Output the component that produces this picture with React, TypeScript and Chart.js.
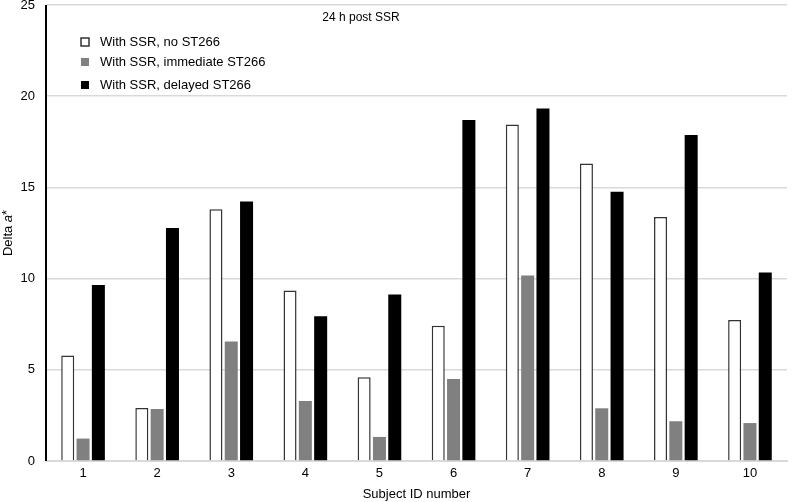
import React, { useEffect, useRef } from "react";
import { Chart, registerables } from "chart.js";

Chart.register(...registerables);

const categories = ["1", "2", "3", "4", "5", "6", "7", "8", "9", "10"];
const noST266 = [5.78, 2.91, 13.8, 9.35, 4.59, 7.41, 18.45, 16.31, 13.38, 7.73];
const immediateST266 = [1.23, 2.85, 6.55, 3.29, 1.32, 4.5, 10.17, 2.89, 2.18, 2.08];
const delayedST266 = [9.65, 12.77, 14.23, 7.94, 9.13, 18.69, 19.33, 14.76, 17.87, 10.33];
const seriesNames = ["With SSR, no ST266", "With SSR, immediate ST266", "With SSR, delayed ST266"];
const yTicks = [0, 5, 10, 15, 20, 25];
const chartTitle = "24 h post SSR";
const xTitle = "Subject ID number";

const FONT = "'Liberation Sans', Arial, sans-serif";

const overlayPlugin = {
  id: "overlay",
  afterDraw(chart: any) {
    const ctx = chart.ctx;
    ctx.save();
    // title
    ctx.fillStyle = "#000";
    ctx.font = `12px ${FONT}`;
    ctx.textAlign = "center";
    ctx.textBaseline = "middle";
    ctx.fillText(chartTitle, 361, 18);
    // legend
    const items = chart.data.datasets;
    const ys = [42, 62, 85];
    ctx.textAlign = "left";
    ctx.font = `13px ${FONT}`;
    items.forEach((ds: any, i: number) => {
      const y = ys[i];
      const bx = 81;
      const size = 8;
      ctx.fillStyle = ds.backgroundColor;
      ctx.fillRect(bx, y - size / 2, size, size);
      if (ds.borderWidth > 0) {
        ctx.strokeStyle = ds.borderColor;
        ctx.lineWidth = 1.5;
        ctx.strokeRect(bx, y - size / 2, size, size);
      }
      ctx.fillStyle = "#000";
      ctx.fillText(ds.label, 100, y);
    });
    // y axis title with italic a
    ctx.translate(8, 233);
    ctx.rotate(-Math.PI / 2);
    ctx.textBaseline = "middle";
    const p1 = "Delta ";
    ctx.font = `13px ${FONT}`;
    const w1 = ctx.measureText(p1).width;
    ctx.font = `italic 13px ${FONT}`;
    const w2 = ctx.measureText("a").width;
    ctx.font = `13px ${FONT}`;
    const w3 = ctx.measureText("*").width;
    let x = -(w1 + w2 + w3) / 2;
    ctx.textAlign = "left";
    ctx.fillText(p1, x, 0);
    x += w1;
    ctx.font = `italic 13px ${FONT}`;
    ctx.fillText("a", x, 0);
    x += w2;
    ctx.font = `13px ${FONT}`;
    ctx.fillText("*", x, -1);
    ctx.restore();
    // y axis line
    const area = chart.chartArea;
    ctx.save();
    ctx.strokeStyle = "#000";
    ctx.lineWidth = 2;
    ctx.beginPath();
    ctx.moveTo(area.left, area.top);
    ctx.lineTo(area.left, area.bottom);
    ctx.stroke();
    ctx.restore();
  },
};

export default function App() {
  const ref = useRef<HTMLCanvasElement>(null);
  useEffect(() => {
    document.body.style.margin = "0";
    const c = new Chart(ref.current!, {
      type: "bar",
      data: {
        labels: categories,
        datasets: [
          { label: seriesNames[0], data: noST266, backgroundColor: "#ffffff", borderColor: "#333333", borderWidth: 1.5, borderSkipped: "bottom" },
          { label: seriesNames[1], data: immediateST266, backgroundColor: "#808080", borderColor: "#808080", borderWidth: 0 },
          { label: seriesNames[2], data: delayedST266, backgroundColor: "#000000", borderColor: "#000000", borderWidth: 0 },
        ],
      } as any,
      options: {
        animation: false,
        responsive: false,
        layout: { padding: { left: 0, top: 5, right: 5, bottom: 0 } },
        datasets: { bar: { barPercentage: 0.85, categoryPercentage: 0.62 } } as any,
        plugins: { legend: { display: false }, title: { display: false }, tooltip: { enabled: false } },
        scales: {
          x: {
            grid: { display: false, drawTicks: false },
            border: { display: true, color: "#d9d9d9", width: 2 },
            ticks: { color: "#000", font: { family: FONT, size: 13 }, padding: 5 },
            title: { display: true, text: xTitle, color: "#000", font: { family: FONT, size: 13 }, padding: { top: 2, bottom: 0 } },
            afterFit: (s: any) => { s.height = 41; s.paddingLeft = 0; s.paddingRight = 0; },
          },
          y: {
            min: 0,
            max: 25,
            afterBuildTicks: (s: any) => { s.ticks = yTicks.map((v) => ({ value: v })); },
            grid: { color: "#d9d9d9", lineWidth: 1.5, drawTicks: false },
            border: { display: false },
            ticks: { color: "#000", font: { family: FONT, size: 13 }, padding: 11 },
            afterFit: (s: any) => { s.width = 46; s.paddingTop = 0; s.paddingBottom = 0; },
          },
        },
      },
      plugins: [overlayPlugin],
    });
    return () => c.destroy();
  }, []);
  return <canvas ref={ref} width={792} height={502} style={{ display: "block" }} />;
}
